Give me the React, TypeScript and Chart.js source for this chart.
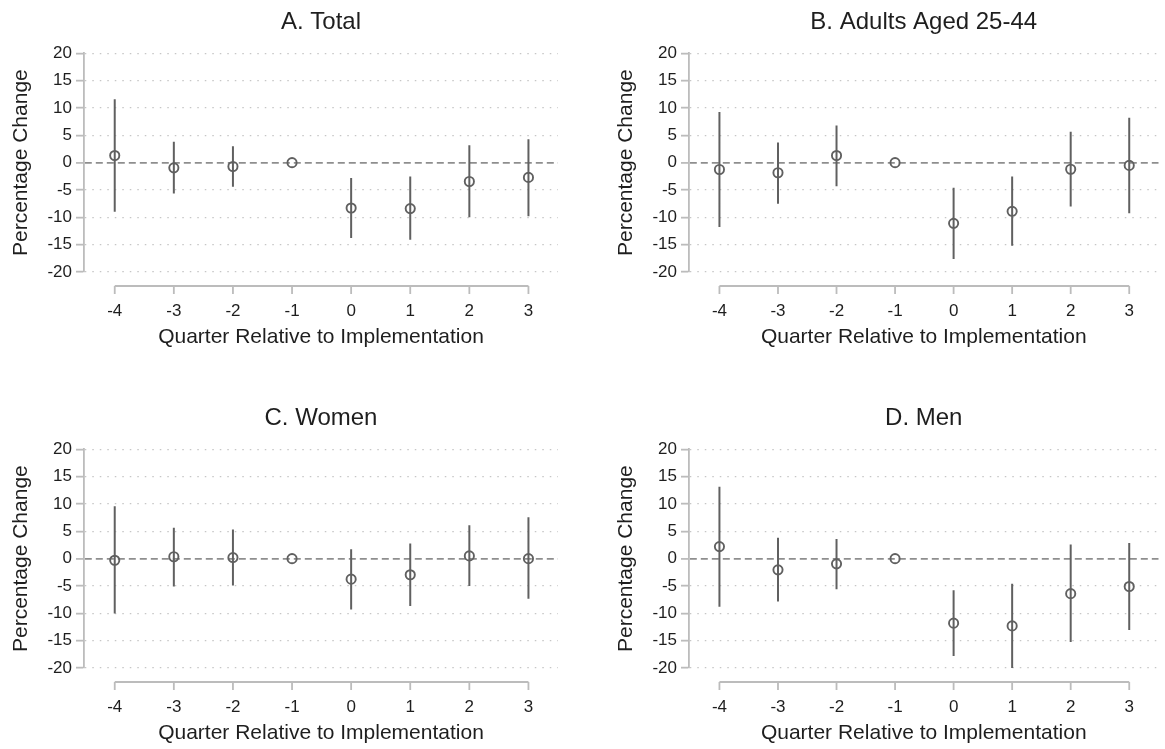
import React, { useEffect, useRef } from "react";
import { Chart, registerables } from "chart.js";

Chart.register(...registerables);

// ---- data ----
const quarters = [-4, -3, -2, -1, 0, 1, 2, 3];
const yTickValues = [-20, -15, -10, -5, 0, 5, 10, 15, 20];

const totalEst = [1.3, -0.95, -0.7, 0, -8.3, -8.4, -3.45, -2.7];
const totalLo = [-9.0, -5.65, -4.4, 0, -13.8, -14.1, -10.0, -9.8];
const totalHi = [11.6, 3.8, 3.0, 0, -2.8, -2.55, 3.2, 4.3];

const adultsEst = [-1.25, -1.85, 1.3, 0, -11.1, -8.9, -1.2, -0.5];
const adultsLo = [-11.75, -7.5, -4.3, 0, -17.6, -15.2, -8.0, -9.25];
const adultsHi = [9.25, 3.7, 6.8, 0, -4.6, -2.55, 5.65, 8.2];

const womenEst = [-0.3, 0.35, 0.2, 0, -3.75, -2.95, 0.5, 0];
const womenLo = [-10.05, -5.1, -4.9, 0, -9.3, -8.65, -5.0, -7.35];
const womenHi = [9.6, 5.65, 5.35, 0, 1.7, 2.75, 6.1, 7.55];

const menEst = [2.2, -2.05, -0.95, 0, -11.8, -12.3, -6.4, -5.1];
const menLo = [-8.8, -7.85, -5.6, 0, -17.8, -20.0, -15.25, -13.05];
const menHi = [13.15, 3.8, 3.6, 0, -5.8, -4.6, 2.6, 2.85];

const panelTitles = ["A. Total", "B. Adults Aged 25-44", "C. Women", "D. Men"];
const yTitle = "Percentage Change";
const xTitle = "Quarter Relative to Implementation";

// ---- styles ----
const FONT = "'Liberation Sans', Arial, Helvetica, sans-serif";
const TEXT = "#1e1e1e";
const AXIS = "#bcbcbc";
const GRID = "#c6c6c6";
const ZERO = "#8e8e8e";
const MARK = "#606060";

const xAxisLinePlugin = {
  id: "xAxisLine",
  afterDraw(chart: any) {
    const { ctx, chartArea, scales } = chart;
    const x = scales.x;
    const y0 = chartArea.bottom + 14;
    const first = x.getPixelForValue(quarters[0]);
    const last = x.getPixelForValue(quarters[quarters.length - 1]);
    ctx.save();
    ctx.strokeStyle = AXIS;
    ctx.lineWidth = 1.8;
    ctx.beginPath();
    ctx.moveTo(first, y0);
    ctx.lineTo(last, y0);
    quarters.forEach((q) => {
      const px = x.getPixelForValue(q);
      ctx.moveTo(px, y0);
      ctx.lineTo(px, y0 + 8);
    });
    ctx.stroke();
    ctx.restore();
  },
};

function makeConfig(title: string, est: number[], lo: number[], hi: number[], padRight: number): any {
  const spikes: any[] = [];
  quarters.forEach((q, i) => {
    spikes.push({ x: q, y: lo[i] });
    spikes.push({ x: q, y: hi[i] });
    spikes.push({ x: q, y: null });
  });
  const points = quarters.map((q, i) => ({ x: q, y: est[i] }));
  return {
    type: "scatter",
    data: {
      datasets: [
        {
          data: points,
          pointRadius: 4.6,
          pointBorderWidth: 1.9,
          pointBorderColor: MARK,
          pointBackgroundColor: "rgba(0,0,0,0)",
          showLine: false,
        },
        {
          data: spikes,
          showLine: true,
          spanGaps: false,
          pointRadius: 0,
          borderColor: MARK,
          borderWidth: 2,
        },
      ],
    },
    plugins: [xAxisLinePlugin],
    options: {
      animation: false,
      responsive: false,
      devicePixelRatio: 1,
      layout: { padding: { left: 0, right: padRight, top: 0, bottom: 0 } },
      plugins: {
        legend: { display: false },
        tooltip: { enabled: false },
        title: {
          display: true,
          text: title,
          fullSize: false,
          color: TEXT,
          font: { family: FONT, size: 24, weight: "normal", lineHeight: 1.2 },
          padding: { top: 8, bottom: 16.5 },
        },
      },
      scales: {
        x: {
          type: "linear",
          min: -4.52,
          max: 3.5,
          afterBuildTicks: (scale: any) => {
            scale.ticks = quarters.map((v) => ({ value: v }));
          },
          afterFit: (scale: any) => {
            scale.height = 88;
          },
          grid: { display: false, drawTicks: false },
          border: { display: false },
          ticks: {
            color: TEXT,
            font: { family: FONT, size: 17 },
            padding: 29,
            maxRotation: 0,
            autoSkip: false,
            callback: (v: any) => String(v),
          },
          title: {
            display: true,
            text: xTitle,
            color: TEXT,
            font: { family: FONT, size: 21, lineHeight: 1.2 },
            padding: { top: 0, bottom: 10 },
          },
        },
        y: {
          type: "linear",
          min: -20,
          max: 20,
          afterBuildTicks: (scale: any) => {
            scale.ticks = yTickValues.map((v) => ({ value: v }));
          },
          afterFit: (scale: any) => {
            scale.width = 84;
          },
          grid: {
            color: (c: any) => (c.tick && c.tick.value === 0 ? ZERO : GRID),
            lineWidth: (c: any) => (c.tick && c.tick.value === 0 ? 1.8 : 1.3),
            tickLength: 8,
            tickColor: AXIS,
            tickWidth: 1.8,
            tickBorderDash: [],
          },
          border: {
            display: true,
            color: AXIS,
            width: 1.8,
            dash: (c: any) => (c.tick && c.tick.value === 0 ? [7, 4] : [1.5, 6]),
          },
          ticks: {
            color: TEXT,
            font: { family: FONT, size: 17 },
            padding: 4,
            autoSkip: false,
            callback: (v: any) => String(v),
          },
          title: {
            display: true,
            text: yTitle,
            color: TEXT,
            font: { family: FONT, size: 21, lineHeight: 1.2 },
            padding: { top: 9, bottom: 0 },
          },
        },
      },
    },
  };
}

function Panel(props: { left: number; top: number; width: number; height: number; cfg: any }) {
  const ref = useRef<HTMLCanvasElement | null>(null);
  useEffect(() => {
    if (!ref.current) return;
    const chart = new Chart(ref.current, props.cfg);
    return () => chart.destroy();
  }, []);
  return (
    <div style={{ position: "absolute", left: props.left, top: props.top, width: props.width, height: props.height }}>
      <canvas ref={ref} width={props.width} height={props.height} style={{ width: props.width, height: props.height, display: "block" }} />
    </div>
  );
}

export default function App() {
  const H = 360;
  return (
    <div style={{ position: "absolute", left: 0, top: 0, width: 1165, height: 749, overflow: "hidden", background: "#fff" }}>
      <Panel left={0} top={0} width={580} height={H} cfg={makeConfig(panelTitles[0], totalEst, totalLo, totalHi, 22)} />
      <Panel left={605} top={0} width={560} height={H} cfg={makeConfig(panelTitles[1], adultsEst, adultsLo, adultsHi, 2)} />
      <Panel left={0} top={396} width={580} height={H} cfg={makeConfig(panelTitles[2], womenEst, womenLo, womenHi, 22)} />
      <Panel left={605} top={396} width={560} height={H} cfg={makeConfig(panelTitles[3], menEst, menLo, menHi, 2)} />
    </div>
  );
}
